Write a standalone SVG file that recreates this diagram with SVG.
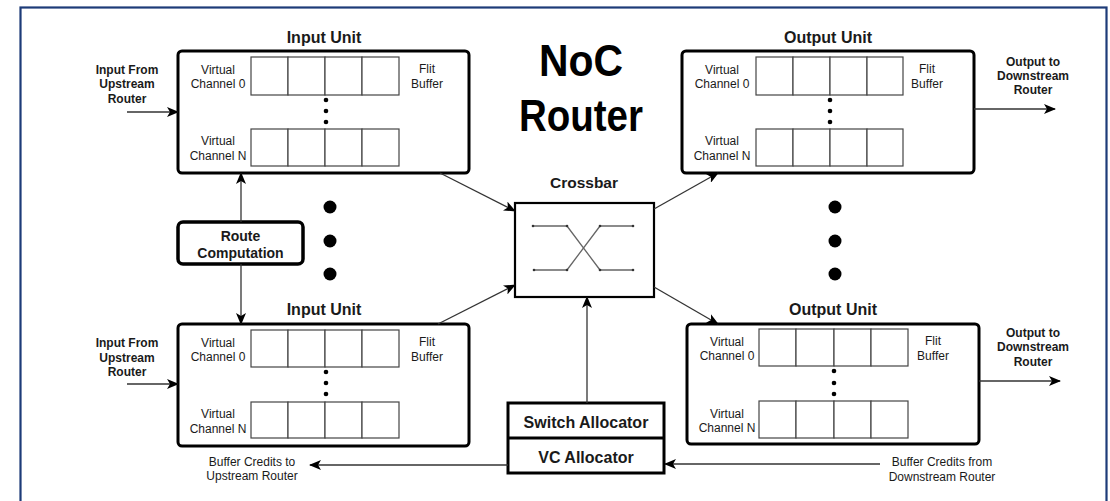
<svg xmlns="http://www.w3.org/2000/svg" width="1110" height="501" viewBox="0 0 1110 501">
<defs>
<style>
text{font-family:"Liberation Sans",Arial,sans-serif;fill:#1a1a1a}
.sm{font-size:12px;text-anchor:middle}
.smb{font-size:12px;font-weight:bold;text-anchor:middle}
.ttl{font-size:16px;font-weight:bold;text-anchor:middle}
.big{font-size:44px;font-weight:bold;text-anchor:middle;fill:#000}
.unit{fill:#fff;stroke:#000;stroke-width:3}
.cell{fill:#fff;stroke:#444;stroke-width:1.2}
.conn line{stroke:#333;stroke-width:1.3;marker-end:url(#ah)}
.xb{fill:none;stroke:#666;stroke-width:1.3}
</style>
<marker id="ah" viewBox="0 0 12 10" refX="11" refY="5" markerWidth="12" markerHeight="10" markerUnits="userSpaceOnUse" orient="auto">
<path d="M0,0 L12,5 L0,10 L3,5 z" fill="#000"/>
</marker>
</defs>
<rect x="0" y="0" width="1110" height="501" fill="#fff"/>
<rect x="20.5" y="7.5" width="1086" height="510" fill="none" stroke="#1d3b78" stroke-width="2.2"/>

<g id="title">
<text class="big" x="581" y="76" textLength="84" lengthAdjust="spacingAndGlyphs">NoC</text>
<text class="big" x="581" y="131" textLength="124" lengthAdjust="spacingAndGlyphs">Router</text>
</g>

<g id="input-unit-top" transform="translate(178,51)">
<text class="ttl" x="146" y="-8">Input Unit</text>
<rect class="unit" x="0" y="0" width="291" height="122" rx="4"/>
<rect class="cell" x="73" y="6" width="37" height="38"/><rect class="cell" x="110" y="6" width="37" height="38"/><rect class="cell" x="147" y="6" width="37" height="38"/><rect class="cell" x="184" y="6" width="37" height="38"/>
<rect class="cell" x="73" y="78" width="37" height="37"/><rect class="cell" x="110" y="78" width="37" height="37"/><rect class="cell" x="147" y="78" width="37" height="37"/><rect class="cell" x="184" y="78" width="37" height="37"/>
<circle cx="148" cy="49" r="2.3"/><circle cx="148" cy="60" r="2.3"/><circle cx="148" cy="71" r="2.3"/>
<text class="sm" x="40" y="23">Virtual</text><text class="sm" x="40" y="37">Channel 0</text>
<text class="sm" x="40" y="94">Virtual</text><text class="sm" x="40" y="109">Channel N</text>
<text class="sm" x="249" y="22">Flit</text><text class="sm" x="249" y="37">Buffer</text>
</g>

<g id="input-unit-bottom" transform="translate(178,324)">
<text class="ttl" x="146" y="-9">Input Unit</text>
<rect class="unit" x="0" y="0" width="291" height="122" rx="4"/>
<rect class="cell" x="73" y="6" width="37" height="37"/><rect class="cell" x="110" y="6" width="37" height="37"/><rect class="cell" x="147" y="6" width="37" height="37"/><rect class="cell" x="184" y="6" width="37" height="37"/>
<rect class="cell" x="73" y="78" width="37" height="36"/><rect class="cell" x="110" y="78" width="37" height="36"/><rect class="cell" x="147" y="78" width="37" height="36"/><rect class="cell" x="184" y="78" width="37" height="36"/>
<circle cx="148" cy="48" r="2.3"/><circle cx="148" cy="59" r="2.3"/><circle cx="148" cy="70" r="2.3"/>
<text class="sm" x="40" y="23">Virtual</text><text class="sm" x="40" y="37">Channel 0</text>
<text class="sm" x="40" y="94">Virtual</text><text class="sm" x="40" y="109">Channel N</text>
<text class="sm" x="249" y="22">Flit</text><text class="sm" x="249" y="37">Buffer</text>
</g>

<g id="output-unit-top" transform="translate(682,51)">
<text class="ttl" x="146" y="-8">Output Unit</text>
<rect class="unit" x="0" y="0" width="292" height="122" rx="4"/>
<rect class="cell" x="74" y="6" width="37" height="38"/><rect class="cell" x="111" y="6" width="37" height="38"/><rect class="cell" x="148" y="6" width="37" height="38"/><rect class="cell" x="185" y="6" width="36" height="38"/>
<rect class="cell" x="74" y="78" width="37" height="37"/><rect class="cell" x="111" y="78" width="37" height="37"/><rect class="cell" x="148" y="78" width="37" height="37"/><rect class="cell" x="185" y="78" width="36" height="37"/>
<circle cx="148" cy="49" r="2.3"/><circle cx="148" cy="60" r="2.3"/><circle cx="148" cy="71" r="2.3"/>
<text class="sm" x="40" y="23">Virtual</text><text class="sm" x="40" y="37">Channel 0</text>
<text class="sm" x="40" y="94">Virtual</text><text class="sm" x="40" y="109">Channel N</text>
<text class="sm" x="245" y="22">Flit</text><text class="sm" x="245" y="37">Buffer</text>
</g>

<g id="output-unit-bottom" transform="translate(687,324)">
<text class="ttl" x="146" y="-9">Output Unit</text>
<rect class="unit" x="0" y="0" width="292" height="120" rx="4"/>
<rect class="cell" x="72" y="5" width="37" height="37"/><rect class="cell" x="109" y="5" width="38" height="37"/><rect class="cell" x="147" y="5" width="37" height="37"/><rect class="cell" x="184" y="5" width="37" height="37"/>
<rect class="cell" x="72" y="77" width="37" height="37"/><rect class="cell" x="109" y="77" width="38" height="37"/><rect class="cell" x="147" y="77" width="37" height="37"/><rect class="cell" x="184" y="77" width="37" height="37"/>
<circle cx="147" cy="47" r="2.3"/><circle cx="147" cy="59" r="2.3"/><circle cx="147" cy="70" r="2.3"/>
<text class="sm" x="40" y="22">Virtual</text><text class="sm" x="40" y="36">Channel 0</text>
<text class="sm" x="40" y="94">Virtual</text><text class="sm" x="40" y="108">Channel N</text>
<text class="sm" x="246" y="21">Flit</text><text class="sm" x="246" y="36">Buffer</text>
</g>

<g id="crossbar">
<text class="ttl" x="584" y="188" style="font-size:15.5px">Crossbar</text>
<rect x="515" y="203" width="139" height="94" fill="#fff" stroke="#000" stroke-width="2.2"/>
<path class="xb" d="M533,226 H567 L600,270 H633 M534,270 H567 L600,226 H633"/>
<g fill="#333"><circle cx="533" cy="226" r="1.3"/><circle cx="567" cy="226" r="1.3"/><circle cx="600" cy="226" r="1.3"/><circle cx="633" cy="226" r="1.3"/><circle cx="534" cy="270" r="1.3"/><circle cx="567" cy="270" r="1.3"/><circle cx="600" cy="270" r="1.3"/><circle cx="633" cy="270" r="1.3"/></g>
</g>

<g id="route-computation">
<rect x="178" y="222" width="125" height="42" rx="5" fill="#fff" stroke="#000" stroke-width="3.5"/>
<text class="ttl" x="240.5" y="241" style="font-size:14px">Route</text>
<text class="ttl" x="240.5" y="258" style="font-size:14px">Computation</text>
</g>

<g id="allocators">
<rect x="508" y="403" width="156" height="70" fill="#fff" stroke="#000" stroke-width="3"/>
<line x1="508" y1="438" x2="664" y2="438" stroke="#000" stroke-width="3"/>
<text class="ttl" x="586" y="428">Switch Allocator</text>
<text class="ttl" x="586" y="463">VC Allocator</text>
</g>

<g id="ellipsis" fill="#000">
<circle cx="330" cy="207" r="6.5"/><circle cx="330" cy="241" r="6.5"/><circle cx="330" cy="274" r="6.5"/>
<circle cx="835" cy="207" r="6.5"/><circle cx="835" cy="241" r="6.5"/><circle cx="835" cy="274" r="6.5"/>
</g>

<g id="labels">
<text class="smb" x="127" y="74">Input From</text><text class="smb" x="127" y="88">Upstream</text><text class="smb" x="127" y="103">Router</text>
<text class="smb" x="127" y="347">Input From</text><text class="smb" x="127" y="362">Upstream</text><text class="smb" x="127" y="376">Router</text>
<text class="smb" x="1033" y="66">Output to</text><text class="smb" x="1033" y="80">Downstream</text><text class="smb" x="1033" y="94">Router</text>
<text class="smb" x="1033" y="337">Output to</text><text class="smb" x="1033" y="351">Downstream</text><text class="smb" x="1033" y="366">Router</text>
<text class="sm" x="252" y="466">Buffer Credits to</text><text class="sm" x="252" y="480">Upstream Router</text>
<text class="sm" x="942" y="466">Buffer Credits from</text><text class="sm" x="942" y="481">Downstream Router</text>
</g>

<g id="connectors" class="conn">
<line x1="127" y1="112" x2="178" y2="112"/>
<line x1="127" y1="384" x2="178" y2="384"/>
<line x1="241" y1="222" x2="241" y2="173"/>
<line x1="241" y1="264" x2="241" y2="324"/>
<line x1="440" y1="173" x2="515" y2="211"/>
<line x1="438" y1="324" x2="515" y2="285"/>
<line x1="654" y1="209" x2="718" y2="173"/>
<line x1="654" y1="287" x2="718" y2="324"/>
<line x1="587" y1="403" x2="587" y2="297"/>
<line x1="974" y1="109" x2="1055" y2="109"/>
<line x1="979" y1="381" x2="1060" y2="381"/>
<line x1="508" y1="465" x2="310" y2="465"/>
<line x1="880" y1="464" x2="665" y2="464"/>
</g>
</svg>
